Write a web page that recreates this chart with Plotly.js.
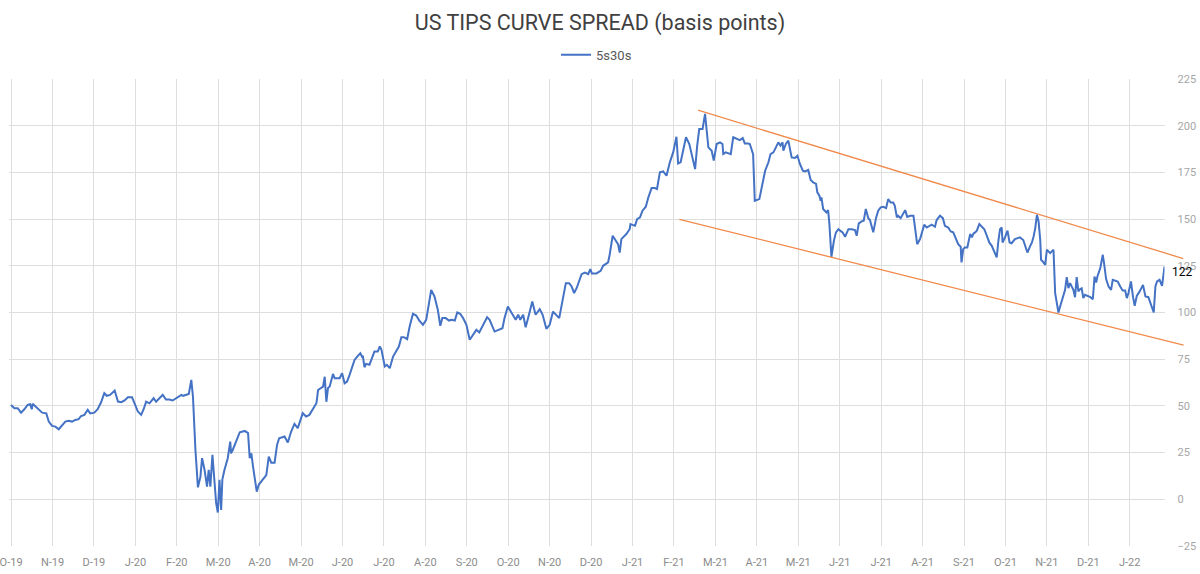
<!DOCTYPE html>
<html>
<head>
<meta charset="utf-8">
<script src="https://cdn.plot.ly/plotly-3.0.1.min.js"></script>
<style>html,body{margin:0;padding:0;background:#fff;}#chart{width:1200px;height:574px;}</style>
</head>
<body>
<div id="chart"></div>
<script>
// x positions in months since 1 Oct 2019 (0 = O-19, 27 = J-22)
const monthPos = [
0.00,0.08,0.16,0.24,0.32,0.40,0.46,0.50,0.52,0.60,0.68,0.75,0.85,0.91,0.99,1.07,1.15,1.23,1.31,1.39,1.47,1.55,1.63,1.69,1.77,1.85,1.91,2.01,2.09,2.17,2.25,2.31,2.39,2.50,2.58,2.66,2.74,2.82,2.92,2.98,
3.06,3.14,3.20,3.26,3.34,3.44,3.50,3.58,3.66,3.74,3.82,3.90,3.99,4.11,4.15,4.23,4.29,4.35,4.39,4.45,4.51,4.57,4.61,4.67,4.73,4.77,4.81,4.86,4.91,4.95,4.99,5.03,5.07,5.10,5.15,5.23,5.29,5.31,5.35,5.44,
5.52,5.64,5.72,5.76,5.80,5.84,5.93,5.98,6.08,6.16,6.22,6.28,6.36,6.42,6.47,6.60,6.68,6.76,6.84,6.92,
7.04,7.12,7.20,7.28,7.37,7.41,7.53,7.57,7.61,7.65,
7.69,7.77,7.81,7.93,7.99,8.05,8.11,8.17,8.24,8.29,8.37,8.43,8.47,8.49,8.53,8.57,8.65,8.72,8.77,8.85,8.90,8.94,9.02,9.07,9.14,9.22,9.30,9.36,9.42,9.48,9.56,9.62,9.70,9.78,9.85,9.90,9.94,10.02,10.10,10.14,
10.22,10.30,10.36,10.41,10.49,10.57,10.63,10.71,10.77,10.84,10.91,10.99,11.07,11.17,11.23,11.30,11.38,11.43,11.49,11.55,11.67,11.86,11.91,11.99,12.07,12.18,12.24,12.29,12.36,12.42,12.50,12.58,12.66,12.76,12.83,12.92,13.00,13.08,13.23,13.31,
13.39,13.47,13.53,13.59,13.65,
13.77,13.85,13.93,13.98,14.02,14.13,14.23,14.29,14.41,14.45,14.52,14.61,14.65,14.69,14.73,14.85,14.93,14.95,15.06,15.11,15.18,15.24,15.32,15.38,15.46,15.54,15.59,15.66,15.74,15.82,15.90,15.98,16.06,16.10,16.16,16.22,16.29,16.37,16.45,16.51,
16.56,16.61,16.69,16.75,16.79,16.83,16.91,16.96,17.03,17.11,17.17,17.19,17.25,17.37,17.43,17.51,17.59,17.66,17.71,17.79,17.83,17.91,17.95,18.06,18.12,18.20,18.28,18.33,18.40,18.46,18.52,18.57,18.62,
18.64,18.70,18.76,18.84,18.92,18.98,19.04,19.11,19.16,19.24,19.30,19.36,19.43,19.46,19.51,19.54,19.56,19.60,19.64,19.68,19.72,19.75,19.80,19.86,19.91,19.97,20.01,20.07,20.13,20.17,20.21,20.29,20.37,20.41,20.46,20.53,20.58,20.63,20.69,20.73,
20.81,20.88,20.93,20.99,21.05,21.12,21.17,21.23,21.29,21.33,21.38,21.41,21.47,21.58,21.63,21.70,21.78,21.87,21.94,22.04,22.10,22.22,22.30,22.34,22.42,22.49,22.54,22.62,22.68,22.74,22.81,22.86,22.92,22.94,22.98,23.02,23.08,23.15,23.19,23.23,
23.27,23.31,23.37,23.43,23.49,23.55,23.61,23.67,23.72,23.79,23.83,23.87,23.91,23.93,23.99,24.05,24.10,24.15,24.23,24.29,24.35,24.43,24.50,24.53,24.60,
24.64,24.68,24.72,24.76,24.80,24.84,24.86,24.90,24.96,25.00,25.04,25.08,25.12,25.16,25.20,25.24,25.28,25.32,25.40,25.44,25.48,25.52,25.56,25.64,25.68,25.72,25.76,25.80,25.84,25.88,25.92,25.98,26.05,26.11,26.15,26.19,26.22,26.29,26.35,26.38,
26.43,26.49,26.55,26.59,26.65,26.71,26.77,26.83,26.89,26.93,26.97,27.03,27.08,27.12,27.17,27.24,27.32,27.38,27.45,27.51,27.58,27.62,27.66,27.72,27.78,27.84
];

// 5s30s TIPS curve spread, basis points
const spread5s30s = [
50.5,48.8,48.8,46.4,48.2,50.5,50.9,48.2,51.1,49.6,48.2,46.4,46.0,41.6,39.3,38.9,37.5,39.3,41.6,42.0,41.6,42.5,42.9,44.6,45.2,47.9,46.0,46.4,48.2,51.8,56.8,55.4,55.9,58.2,52.3,52.0,52.9,54.6,54.6,51.4,
47.0,45.2,48.2,52.3,51.4,54.1,52.3,54.1,55.9,53.4,53.4,52.9,54.1,55.9,55.4,55.9,56.4,63.9,55.0,26.4,6.4,12.0,22.0,15.7,6.8,15.7,6.8,23.8,8.6,-2.1,-7.1,10.4,-5.7,10.7,15.7,22.0,30.9,24.6,26.4,31.8,
35.9,36.6,35.4,22.0,24.6,17.5,4.1,7.9,10.4,13.0,22.9,19.6,19.6,29.1,32.7,33.6,30.4,36.3,40.4,38.1,
46.1,44.3,45.2,47.9,51.4,58.5,60.3,65.6,52.2,59.6,
60.4,67.1,64.8,64.8,67.5,62.1,63.0,66.6,72.0,74.6,76.8,78.2,76.4,76.8,70.7,72.5,72.0,76.1,79.1,79.1,81.8,80.0,71.1,72.0,70.2,76.4,80.0,81.8,86.8,86.8,85.7,92.5,99.3,98.4,95.7,94.6,93.4,96.1,106.8,112.1,
108.6,101.4,92.9,97.0,97.0,95.7,96.1,95.7,100.0,99.3,97.0,93.4,85.4,88.6,90.7,89.3,92.5,94.6,97.5,96.1,89.8,91.6,97.0,103.2,100.5,96.1,98.8,96.1,98.8,92.1,98.8,105.9,98.8,101.8,98.8,91.3,93.4,100.5,97.0,105.9,
115.7,115.7,113.9,110.4,113.0,
120.5,121.4,120.5,123.2,120.9,120.9,122.3,125.0,126.8,131.2,141.1,138.4,136.6,132.1,139.3,142.0,144.6,147.3,146.4,150.0,150.9,154.5,156.6,161.6,166.6,166.6,166.1,175.0,175.5,173.2,180.4,185.7,194.1,179.8,180.4,186.6,193.8,190.2,183.0,176.8,
189.3,198.2,198.2,206.3,197.3,188.4,186.6,181.3,190.2,191.1,190.2,184.8,185.7,184.8,193.8,192.9,192.3,193.4,190.5,190.5,190.2,184.8,159.8,160.7,167.9,175.9,180.4,184.8,185.7,188.4,191.1,189.3,191.1,
186.6,190.2,192.0,183.0,182.7,183.9,179.5,175.9,175.5,176.3,170.9,169.6,168.8,164.3,162.5,159.8,161.6,155.4,154.5,153.6,154.8,147.7,129.8,138.4,142.9,144.6,143.8,142.9,140.5,142.9,144.6,144.6,144.1,141.1,147.7,148.8,149.1,155.4,150.5,149.5,
142.9,150.9,154.5,156.3,156.6,155.9,160.7,158.9,158.9,157.1,150.9,151.8,150.5,154.8,151.2,151.8,151.8,136.6,139.3,147.0,145.5,147.0,145.9,149.5,151.8,150.5,146.4,145.5,143.4,142.9,139.3,136.6,135.2,126.8,133.9,134.8,134.8,142.0,140.2,142.3,
142.9,143.8,147.3,145.9,144.6,141.1,137.5,135.7,133.4,129.5,138.4,144.6,145.5,137.5,140.2,143.8,137.5,137.1,139.3,139.8,140.2,138.8,134.8,132.1,135.7,
137.5,140.7,145.2,152.3,148.8,138.9,128.2,127.3,125.5,133.6,132.7,131.8,132.7,133.6,110.4,104.1,100.0,103.2,108.6,112.1,118.9,113.0,115.7,112.1,108.2,118.9,111.3,112.5,113.0,107.7,109.5,108.9,108.2,107.1,119.3,116.1,119.3,123.8,130.9,126.4,
117.9,113.9,112.1,117.5,117.1,116.6,113.9,111.8,111.8,107.7,110.4,116.6,108.2,103.6,108.9,111.3,114.8,108.6,108.2,104.1,100.0,114.0,116.6,117.5,114.3,124.6,122.0
];

// month tick labels
const monthTicks = [0,1,2,3,4,5,6,7,8,9,10,11,12,13,14,15,16,17,18,19,20,21,22,23,24,25,26,27];
const monthLabels = ['O-19','N-19','D-19','J-20','F-20','M-20','A-20','M-20','J-20','J-20','A-20','S-20','O-20','N-20','D-20',
  'J-21','F-21','M-21','A-21','M-21','J-21','J-21','A-21','S-21','O-21','N-21','D-21','J-22'];

// hand-drawn channel lines (month, bp)
const upperTrendX = [16.58, 28.29];
const upperTrendY = [208.3, 128.9];
const lowerTrendX = [16.13, 28.30];
const lowerTrendY = [149.9, 82.5];

const yTicks = [-25,0,25,50,75,100,125,150,175,200,225];

const xStart = -0.05;
const xEnd = monthPos[monthPos.length - 1];
const xEndExt = 28.31;
const lastVal = spread5s30s[spread5s30s.length - 1];

const FONT = 'Roboto, "DejaVu Sans", sans-serif';

const traces = [
  {
    x: monthPos, y: spread5s30s, type: 'scatter', mode: 'lines', name: '5s30s',
    line: {color: '#4472C4', width: 2}, xaxis: 'x', yaxis: 'y'
  },
  {
    x: upperTrendX, y: upperTrendY, type: 'scatter', mode: 'lines', showlegend: false,
    line: {color: '#F08A4B', width: 1.3}, xaxis: 'x2', yaxis: 'y2'
  },
  {
    x: lowerTrendX, y: lowerTrendY, type: 'scatter', mode: 'lines', showlegend: false,
    line: {color: '#F08A4B', width: 1.3}, xaxis: 'x2', yaxis: 'y2'
  }
];

const layout = {
  width: 1200, height: 574,
  margin: {l: 9, r: 16, t: 79, b: 28},
  paper_bgcolor: '#ffffff',
  plot_bgcolor: 'rgba(0,0,0,0)',
  font: {family: FONT, color: '#595959'},
  title: {
    text: 'US TIPS CURVE SPREAD (basis points)',
    font: {family: FONT, size: 21.5, color: '#404040'},
    x: 0.5, xref: 'container', xanchor: 'center',
    y: 1 - 22 / 574, yref: 'container', yanchor: 'middle'
  },
  showlegend: true,
  legend: {
    orientation: 'h', x: 0.5, xanchor: 'center', y: 1.052, yanchor: 'middle',
    font: {family: FONT, size: 13, color: '#595959'}, bgcolor: 'rgba(0,0,0,0)'
  },
  xaxis: {
    domain: [0, (xEnd - xStart) / (xEndExt - xStart)], range: [xStart, xEnd], anchor: 'y',
    tickmode: 'array', tickvals: monthTicks, ticktext: monthLabels,
    showgrid: true, gridcolor: '#dedede', gridwidth: 1,
    zeroline: false, showline: false, ticks: '',
    ticklabelstandoff: 8, ticklabeloverflow: 'allow',
    tickfont: {family: FONT, size: 11, color: '#8c8c8c'}
  },
  yaxis: {
    domain: [0, 1], range: [-25, 225], anchor: 'x', side: 'right',
    tickmode: 'array', tickvals: yTicks,
    showgrid: true, gridcolor: '#dedede', gridwidth: 1,
    zeroline: false, showline: false, ticks: '',
    ticklabelstandoff: 12, ticklabeloverflow: 'allow',
    tickfont: {family: FONT, size: 11, color: '#a6a6a6'}
  },
  xaxis2: {domain: [0, 1], range: [xStart, xEndExt], anchor: 'y2', visible: false, showgrid: false, zeroline: false},
  yaxis2: {domain: [0, 1], range: [-25, 225], anchor: 'x2', visible: false, showgrid: false, zeroline: false},
  annotations: [{
    x: xEnd, y: lastVal, xref: 'x', yref: 'y', xanchor: 'left', yanchor: 'middle',
    xshift: 5, yshift: -1, showarrow: false, text: String(Math.round(lastVal)),
    font: {family: FONT, size: 12, color: '#000000'}
  }]
};

Plotly.newPlot('chart', traces, layout, {displayModeBar: false, staticPlot: true});
</script>
</body>
</html>
